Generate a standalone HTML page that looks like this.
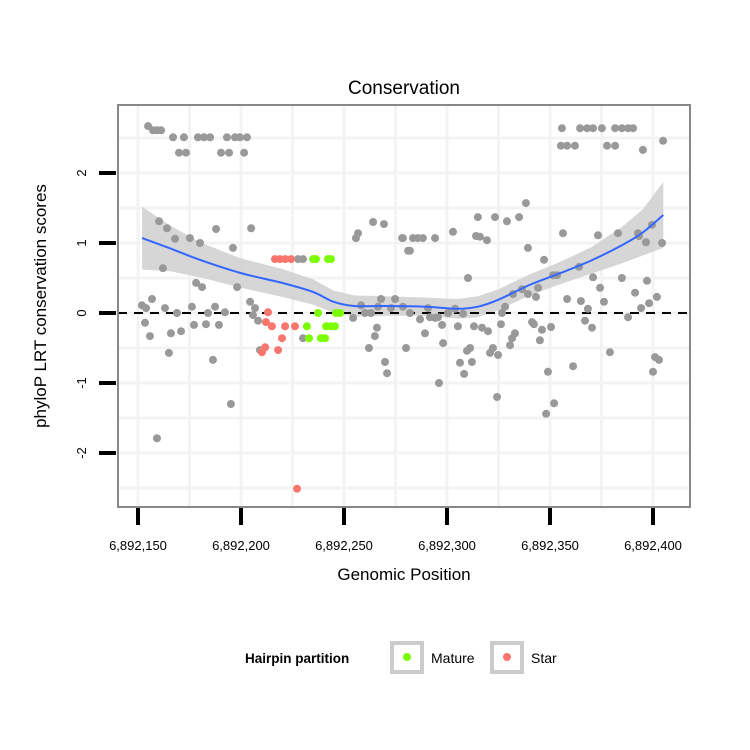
<!DOCTYPE html>
<html><head><meta charset="utf-8"><style>
body{margin:0;background:#fff;}
svg{display:block;font-family:"Liberation Sans",sans-serif;}
</style></head><body>
<svg id="chart" width="750" height="750" viewBox="0 0 750 750" xmlns="http://www.w3.org/2000/svg">
<text x="404" y="94" font-size="19" text-anchor="middle">Conservation</text>
<text transform="translate(46,306) rotate(-90)" font-size="17" text-anchor="middle">phyloP LRT conservation scores</text>
<text x="404" y="580" font-size="17" text-anchor="middle">Genomic Position</text>
<g id="grid"></g>
<g id="band"></g>
<line x1="118" x2="690" y1="313" y2="313" stroke="#000" stroke-width="2" stroke-dasharray="9,7"/>
<g id="pts"></g>
<g id="fit"></g>
<rect x="118" y="105" width="572" height="402" fill="none" stroke="#888" stroke-width="2"/>
<g id="axes"></g>
<g>
<text x="245" y="663" font-size="13.5" font-weight="bold">Hairpin partition</text>
<g>
<rect x="392" y="643" width="30" height="29" fill="none" stroke="#ccc" stroke-width="4"/>
<circle cx="407" cy="657" r="4" fill="#7cfc00"/>
<text x="431" y="663" font-size="14">Mature</text></g>
<g>
<rect x="492" y="643" width="30" height="29" fill="none" stroke="#ccc" stroke-width="4"/>
<circle cx="507" cy="657" r="4" fill="#f8766d"/>
<text x="531" y="663" font-size="14">Star</text></g>
</g>
</svg>
<script>
// positions are offsets from 6,892,000
const grayPos=[154.9,157.3,159.2,161.2,167,172.3,179.1,182,185,193.2,197.1,199.5,202.9,169.9,173.3,190.3,194.2,201.5,160.2,164.1,168,175.2,180.1,187.9,204.9,196.1,162.1,178.2,181.1,198.1,264.1,269.4,256.8,255.8,278.2,281.1,227.7,230.1,151.9,153.9,156.8,163.1,168.9,176.2,187.4,184,192.2,204.4,206.8,205.8,208.3,153.4,155.8,166,170.9,177.2,183,189.3,165,186.4,195.1,159.2,230.1,209.2,254.4,258.3,268,274.8,260.2,263.1,266.5,272.8,278.6,266,265,262.1,269.9,270.9,280.1,355.8,364.6,368,370.9,375.2,381.6,384.9,387.9,390.3,355.3,358.3,362.1,377.7,381.6,395.1,404.9,278.6,283.5,285.9,288.3,294.2,282,302.9,315,323.3,329.1,335,338.3,314.1,316,319.4,339.3,356.3,373.3,383,392.7,393.2,399.5,396.6,404.4,347.1,351.5,353.4,364.1,310.2,370.9,384.9,397.1,374.3,391.3,401.9,398.1,394.2,376.2,365,358.3,368.4,387.9,367,370.4,332,336.4,339.3,343.2,344.2,328.2,326.7,326.2,333,331.6,330.6,322.3,320.9,324.8,341.3,342.2,346.1,345.1,350.5,282,286.9,291.7,294.2,295.6,289.3,297.6,305.3,307.8,313.1,317,319.9,298.1,309.7,311.2,306.3,312.1,308.3,296.1,324.3,349,361.2,352,348.1,379.1,401,402.9,400,290.8,300.5,303.9];
const grayScore=[2.67,2.61,2.61,2.61,2.51,2.51,2.51,2.51,2.51,2.51,2.51,2.51,2.51,2.29,2.29,2.29,2.29,2.29,1.31,1.21,1.06,1.07,1.0,1.2,1.21,0.93,0.64,0.43,0.37,0.37,1.3,1.27,1.14,1.07,1.07,0.89,0.77,0.77,0.11,0.07,0.2,0.07,0,0.09,0.09,0,0.01,0.16,0.07,-0.03,-0.11,-0.14,-0.33,-0.29,-0.26,-0.17,-0.16,-0.17,-0.57,-0.67,-1.3,-1.79,-0.36,-0.53,-0.07,0.11,0.2,0.2,0,0,0.09,0.07,0.09,-0.21,-0.33,-0.5,-0.7,-0.86,-0.5,2.64,2.64,2.64,2.64,2.64,2.64,2.64,2.64,2.64,2.39,2.39,2.39,2.39,2.39,2.33,2.46,1.07,1.07,1.07,1.07,1.07,0.89,1.16,1.37,1.37,1.31,1.37,1.57,1.1,1.09,1.04,0.93,1.14,1.11,1.14,1.14,1.1,1.26,1.01,1.0,0.76,0.54,0.54,0.66,0.5,0.51,0.5,0.46,0.36,0.29,0.23,0.14,0.07,0.16,0.17,0.2,0.06,-0.06,-0.11,-0.21,0.27,0.34,0.27,0.23,0.36,0.09,0,-0.16,-0.29,-0.36,-0.46,-0.5,-0.57,-0.6,-0.13,-0.16,-0.24,-0.39,-0.2,0,-0.09,-0.06,-0.07,-0.06,-0.29,-0.17,-0.19,-0.01,-0.19,-0.21,-0.26,-0.43,-0.54,-0.5,-0.71,-0.7,-0.87,-1.0,-1.2,-0.84,-0.76,-1.29,-1.44,-0.56,-0.63,-0.67,-0.84,0.07,0,0.06];
const starPos=[216.5,218.9,221.4,224.3,213.1,212.1,215,221.4,226.2,219.9,211.7,210.2,218,227.2];
const starScore=[0.77,0.77,0.77,0.77,0.01,-0.13,-0.19,-0.19,-0.19,-0.36,-0.49,-0.56,-0.53,-2.51];
const maturePos=[235,236.4,242.2,243.7,237.4,246.1,248.1,232,241.3,243.7,245.6,233,238.8,240.8];
const matureScore=[0.77,0.77,0.77,0.77,0,0,0,-0.19,-0.19,-0.19,-0.19,-0.36,-0.36,-0.36];
const fitPos=[152,165,180,200,220,235,245,255,270,290,305,315,325,340,355,370,385,395,405];
const fitVal=[1.07,0.93,0.76,0.57,0.43,0.3,0.16,0.1,0.1,0.09,0.06,0.09,0.19,0.4,0.57,0.75,0.97,1.15,1.4];
const fitSE=[0.45,0.33,0.25,0.21,0.2,0.18,0.16,0.15,0.14,0.13,0.14,0.15,0.15,0.15,0.16,0.19,0.26,0.33,0.47];
const xTicks=[150,200,250,300,350,400];
const xTickLabels=["6,892,150","6,892,200","6,892,250","6,892,300","6,892,350","6,892,400"];
const yTicks=[-2,-1,0,1,2];
const yTickLabels=["-2","-1","0","1","2"];

const NS="http://www.w3.org/2000/svg";
const X=p=>138+(p-150)*2.06;
const Y=v=>313-v*70;
function mk(tag,attrs,parent){const e=document.createElementNS(NS,tag);for(const k in attrs)e.setAttribute(k,attrs[k]);parent.appendChild(e);return e;}
const grid=document.getElementById('grid');
for(let p=125;p<=425;p+=25){const gx=X(p);if(gx<=119||gx>=689)continue;
const l=mk('line',{x1:gx,x2:gx,y1:106,y2:506,stroke:'#f3f3f3','stroke-width':3},grid);

}
for(let v=-2.5;v<=2.5;v+=0.5){const gy=Y(v);if(gy<=106||gy>=506)continue;
const l=mk('line',{x1:119,x2:689,y1:gy,y2:gy,stroke:'#f3f3f3','stroke-width':3},grid);

}
// band
const band=document.getElementById('band');
let d='';fitPos.forEach((p,i)=>{d+=(i?'L':'M')+X(p)+','+Y(fitVal[i]+fitSE[i]);});
for(let i=fitPos.length-1;i>=0;i--)d+='L'+X(fitPos[i])+','+Y(fitVal[i]-fitSE[i]);
const bp=mk('path',{d:d+'Z',fill:'#cfcfcf','fill-opacity':0.85},band);


// points
const pts=document.getElementById('pts');
function drawPts(pos,sc,col,name){pos.forEach((p,i)=>{const c=mk('circle',{cx:X(p),cy:Y(sc[i]),r:4,fill:col},pts);

});}
drawPts(grayPos,grayScore,'#999999','point-other');
drawPts(starPos,starScore,'#f8766d','point-star');
drawPts(maturePos,matureScore,'#7cfc00','point-mature');
// fit line (smooth via catmull-rom)
const P=fitPos.map((p,i)=>[X(p),Y(fitVal[i])]);
let fd='M'+P[0][0]+','+P[0][1];
for(let i=0;i<P.length-1;i++){const p0=P[Math.max(0,i-1)],p1=P[i],p2=P[i+1],p3=P[Math.min(P.length-1,i+2)];
fd+='C'+(p1[0]+(p2[0]-p0[0])/6)+','+(p1[1]+(p2[1]-p0[1])/6)+' '+(p2[0]-(p3[0]-p1[0])/6)+','+(p2[1]-(p3[1]-p1[1])/6)+' '+p2[0]+','+p2[1];}
const fl=mk('path',{d:fd,fill:'none',stroke:'#3366ff','stroke-width':2},document.getElementById('fit'));


// axes
const ax=document.getElementById('axes');
xTicks.forEach((t,i)=>{const l=mk('line',{x1:X(t),x2:X(t),y1:508,y2:525,stroke:'#000','stroke-width':4},ax);


const tx=mk('text',{x:X(t),y:550,'font-size':13,'text-anchor':'middle'},ax);tx.textContent=xTickLabels[i];

});
yTicks.forEach((t,i)=>{const l=mk('line',{x1:99,x2:116,y1:Y(t),y2:Y(t),stroke:'#000','stroke-width':4},ax);


const tx=mk('text',{transform:'translate(86,'+Y(t)+') rotate(-90)','font-size':13,'text-anchor':'middle'},ax);tx.textContent=yTickLabels[i];

});
</script>
</body></html>
